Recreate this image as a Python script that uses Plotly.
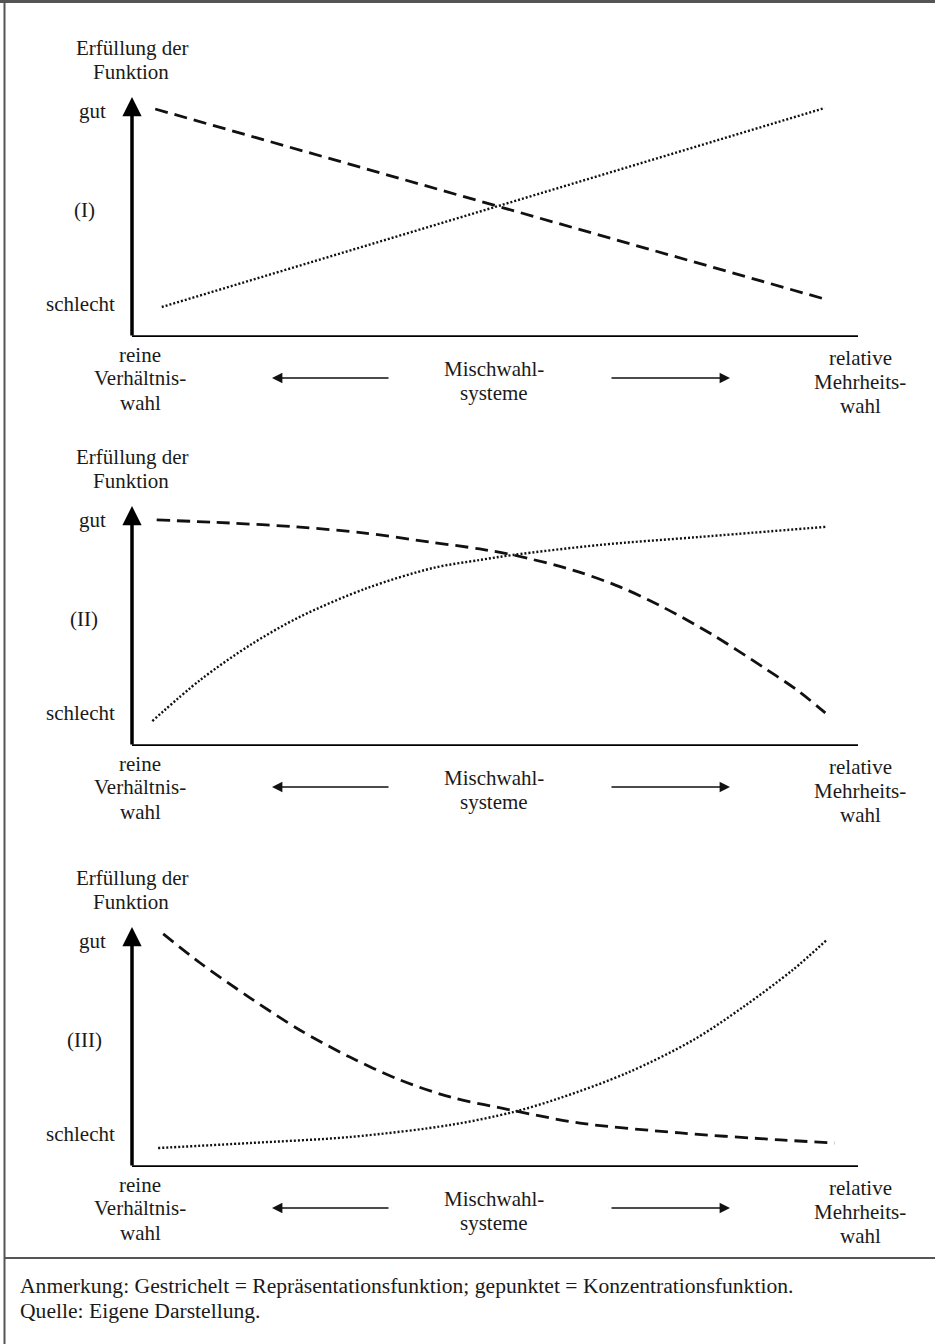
import plotly.graph_objects as go

W, H = 935, 1344

# ---------------- data (x: 0 = reine Verhältniswahl, 100 = relative Mehrheitswahl; y: 0 = schlecht, 100 = gut)
# Panel I
p1_dash_x = [3.2, 95.9]
p1_dash_y = [95.0, 15.4]
p1_dot_x = [4.1, 95.4]
p1_dot_y = [12.5, 95.4]
# Panel II
p2_dash_x = [3.4, 13.5, 22.7, 31.8, 41.0, 47.9, 52.5, 60.7, 67.2, 73.1, 80.0, 86.9, 91.6, 95.5]
p2_dash_y = [94.2, 92.9, 91.3, 88.8, 85.0, 82.1, 79.6, 73.3, 66.3, 57.9, 46.3, 32.9, 23.3, 13.8]
p2_dot_x = [2.8, 9.4, 16.3, 23.1, 32.4, 41.5, 47.9, 52.5, 64.5, 78.2, 95.5]
p2_dot_y = [10.4, 27.5, 42.1, 53.8, 65.8, 74.2, 77.5, 79.6, 83.8, 87.1, 91.3]
# Panel III
p3_dash_x = [4.3, 9.4, 16.3, 23.1, 30.0, 36.9, 43.8, 52.1, 61.7, 75.5, 89.3, 96.8]
p3_dash_y = [97.1, 85.0, 70.4, 57.1, 45.8, 36.3, 29.2, 23.8, 18.3, 14.2, 11.3, 10.0]
p3_dot_x = [3.6, 16.3, 30.0, 43.8, 52.5, 59.0, 68.2, 77.3, 84.2, 91.0, 95.7]
p3_dot_y = [7.9, 10.0, 12.5, 17.5, 22.9, 28.8, 39.2, 52.9, 66.7, 82.1, 94.6]

panel_labels = ["(I)", "(II)", "(III)"]
y_title = ["Erfüllung der", "Funktion"]
y_good, y_bad = "gut", "schlecht"
left_label = ["reine", "Verhältnis-", "wahl"]
mid_label = ["Mischwahl-", "systeme"]
right_label = ["relative", "Mehrheits-", "wahl"]
note_lines = ["Anmerkung: Gestrichelt = Repräsentationsfunktion; gepunktet = Konzentrationsfunktion.",
              "Quelle: Eigene Darstellung."]

panels = [
    (p1_dash_x, p1_dash_y, p1_dot_x, p1_dot_y),
    (p2_dash_x, p2_dash_y, p2_dot_x, p2_dot_y),
    (p3_dash_x, p3_dash_y, p3_dot_x, p3_dot_y),
]

# ---------------- layout geometry (pixels)
def px(x):
    return x / W

def py(y):
    return 1 - y / H

AX_LEFT, AX_RIGHT = 132, 858
panel_bottom = [337, 746, 1167]
panel_top = [97, 506, 927]
txt_off = {
    "t1": -289, "t2": -265, "gut": -226, "pl": -127, "bad": -33,
    "l": [18, 41, 66], "m": [32, 56], "r": [21, 45, 69], "arrow": 41,
}

FONT = "Liberation Serif, Times New Roman, serif"
TXT = "#1a1a1a"

fig = go.Figure()
layout = dict(
    width=W, height=H, margin=dict(l=0, r=0, t=0, b=0),
    paper_bgcolor="white", plot_bgcolor="rgba(0,0,0,0)", showlegend=False,
)
annotations = []
shapes = []

for i, (dx, dy, ox, oy) in enumerate(panels):
    n = "" if i == 0 else str(i + 1)
    xa, ya = "x" + n, "y" + n
    layout["xaxis" + n] = dict(domain=[px(AX_LEFT), px(AX_RIGHT)], range=[0, 100], visible=False,
                               anchor=ya, fixedrange=True)
    layout["yaxis" + n] = dict(domain=[py(panel_bottom[i]), py(panel_top[i])], range=[0, 100],
                               visible=False, anchor=xa, fixedrange=True)
    fig.add_trace(go.Scatter(x=dx, y=dy, mode="lines", xaxis=xa, yaxis=ya,
                             line=dict(color="#111", width=2.8, dash="13px,7px", shape="spline",
                                       smoothing=0.9)))
    fig.add_trace(go.Scatter(x=ox, y=oy, mode="lines", xaxis=xa, yaxis=ya,
                             line=dict(color="#111", width=2.4, dash="2px,2px", shape="spline",
                                       smoothing=0.9)))
    shapes.append(dict(type="line", xref=xa, yref=ya, x0=0, x1=100, y0=0, y1=0,
                       line=dict(color="#000", width=3.5)))
    annotations.append(dict(xref=xa, yref=ya, axref=xa, ayref=ya, x=0, y=100, ax=0, ay=0,
                            showarrow=True, arrowhead=2, arrowsize=1.1, arrowwidth=3.5,
                            arrowcolor="#000", text="", standoff=0, startstandoff=0))
    b = panel_bottom[i]

    def txt(s, x, y, xanchor="center", size=21):
        annotations.append(dict(xref="paper", yref="paper", x=px(x), y=py(y), text=s,
                                showarrow=False, xanchor=xanchor, yanchor="middle",
                                font=dict(family=FONT, size=size, color=TXT)))

    txt(y_title[0], 132, b + txt_off["t1"])
    txt(y_title[1], 131, b + txt_off["t2"])
    txt(y_good, 92, b + txt_off["gut"])
    txt(panel_labels[i], 84, b + txt_off["pl"])
    txt(y_bad, 80, b + txt_off["bad"])
    for s, o in zip(left_label, txt_off["l"]):
        txt(s, 140, b + o)
    for s, o in zip(mid_label, txt_off["m"]):
        txt(s, 494, b + o)
    for s, o in zip(right_label, txt_off["r"]):
        txt(s, 860, b + o)
    ay_ = b + txt_off["arrow"]
    annotations.append(dict(xref="paper", yref="paper", x=px(272), y=py(ay_), ax=118, ay=0,
                            showarrow=True, arrowhead=2, arrowsize=1.3, arrowwidth=1.6,
                            arrowcolor="#111", text="", standoff=0))
    annotations.append(dict(xref="paper", yref="paper", x=px(730), y=py(ay_), ax=-120, ay=0,
                            showarrow=True, arrowhead=2, arrowsize=1.3, arrowwidth=1.6,
                            arrowcolor="#111", text="", standoff=0))

for s, y in zip(note_lines, [1286, 1311]):
    annotations.append(dict(xref="paper", yref="paper", x=px(18), y=py(y), text=s, showarrow=False,
                            xanchor="left", yanchor="middle",
                            font=dict(family=FONT, size=21.6, color=TXT)))

# frame
shapes.append(dict(type="line", xref="paper", yref="paper", x0=0, x1=1, y0=py(1.5), y1=py(1.5),
                   line=dict(color="#555", width=3)))
shapes.append(dict(type="line", xref="paper", yref="paper", x0=px(4.5), x1=px(4.5), y0=0, y1=py(1),
                   line=dict(color="#555", width=2)))
shapes.append(dict(type="line", xref="paper", yref="paper", x0=px(4.5), x1=1, y0=py(1258), y1=py(1258),
                   line=dict(color="#555", width=2)))

layout["annotations"] = annotations
layout["shapes"] = shapes
fig.update_layout(**layout)
fig.write_html("out.html", config={"displayModeBar": False},
               post_script="document.body.style.margin='0';")
